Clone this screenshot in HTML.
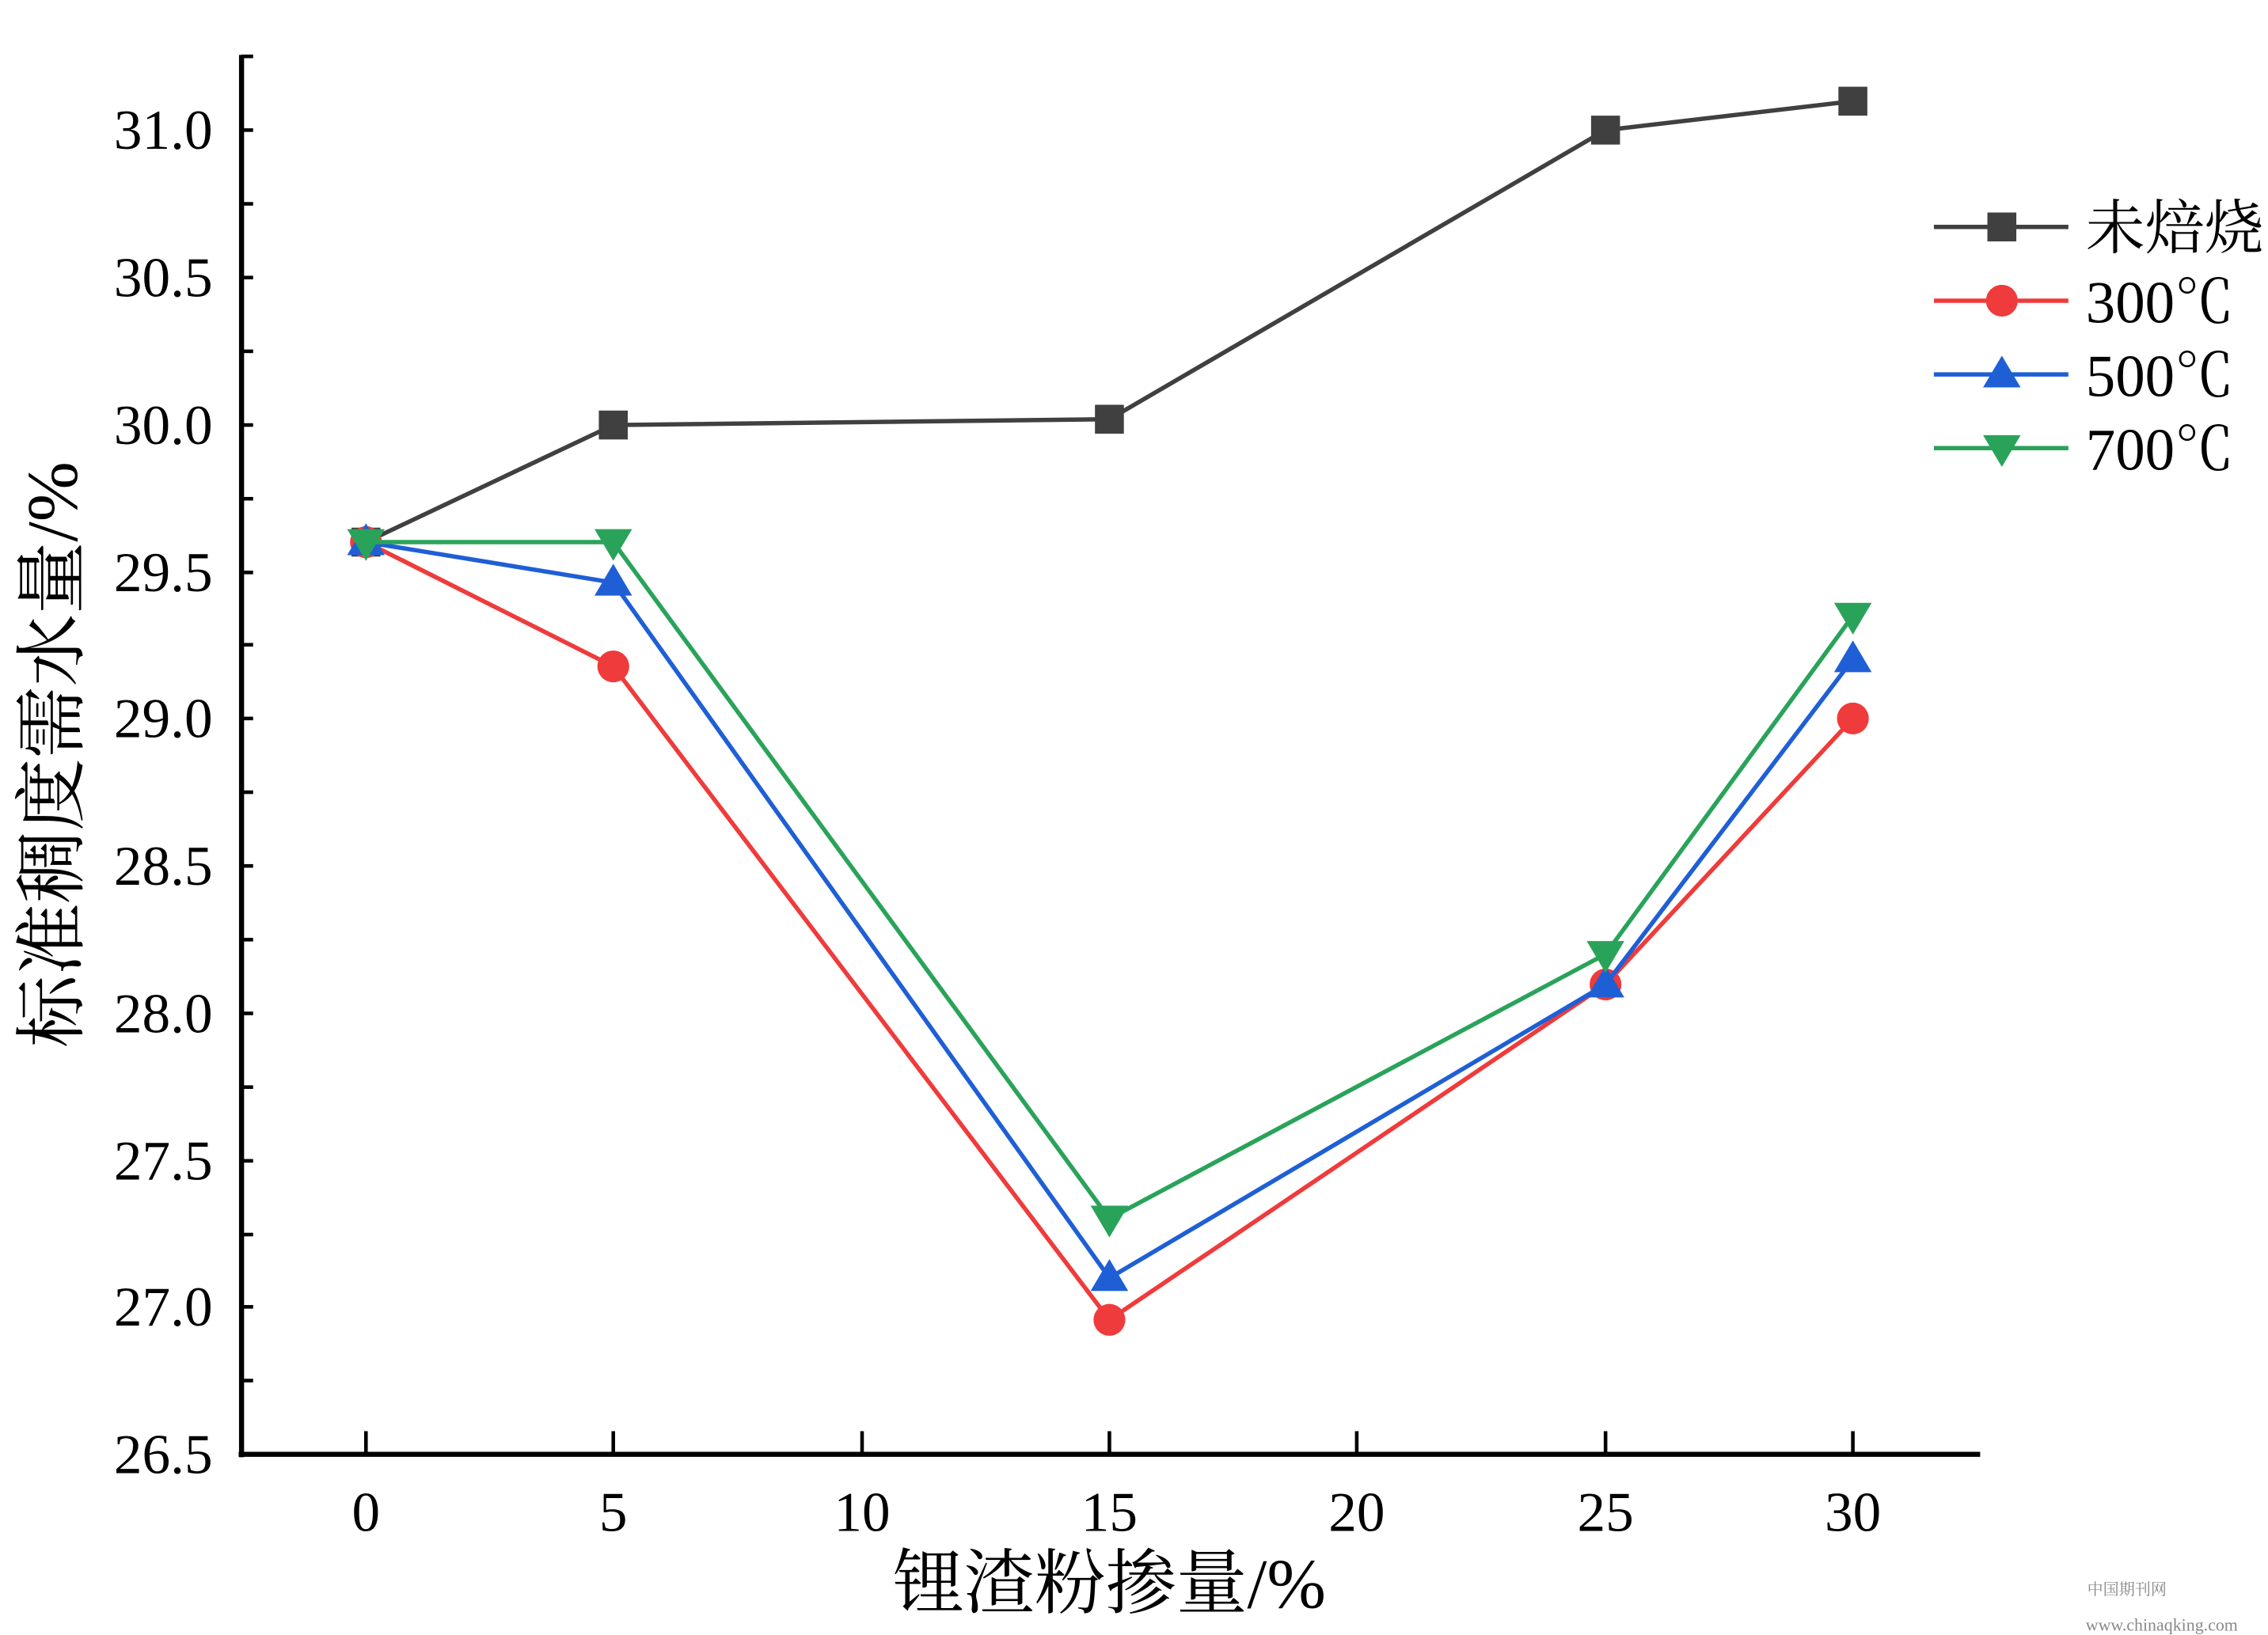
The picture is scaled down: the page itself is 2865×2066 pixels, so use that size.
<!DOCTYPE html>
<html><head><meta charset="utf-8"><style>html,body{margin:0;padding:0;background:#fff}svg{display:block}</style></head><body>
<svg width="2865" height="2066" viewBox="0 0 1568 1131" preserveAspectRatio="none" xmlns="http://www.w3.org/2000/svg" font-family="'Liberation Serif','Noto Serif CJK SC',serif">
<rect width="1568" height="1131" fill="#fff"/>
<g stroke="#000" stroke-width="3.5" fill="none">
<line x1="167" y1="38" x2="167" y2="1008"/>
<line x1="165" y1="1006" x2="1369" y2="1006"/>
</g>
<g stroke="#000" stroke-width="2.5">
<line x1="167" y1="39" x2="175" y2="39"/><line x1="167" y1="90" x2="175" y2="90"/><line x1="167" y1="141" x2="175" y2="141"/><line x1="167" y1="192" x2="175" y2="192"/><line x1="167" y1="243" x2="175" y2="243"/><line x1="167" y1="294" x2="175" y2="294"/><line x1="167" y1="345" x2="175" y2="345"/><line x1="167" y1="396" x2="175" y2="396"/><line x1="167" y1="446" x2="175" y2="446"/><line x1="167" y1="497" x2="175" y2="497"/><line x1="167" y1="548" x2="175" y2="548"/><line x1="167" y1="599" x2="175" y2="599"/><line x1="167" y1="650" x2="175" y2="650"/><line x1="167" y1="701" x2="175" y2="701"/><line x1="167" y1="752" x2="175" y2="752"/><line x1="167" y1="803" x2="175" y2="803"/><line x1="167" y1="854" x2="175" y2="854"/><line x1="167" y1="904" x2="175" y2="904"/><line x1="167" y1="955" x2="175" y2="955"/>
<line x1="253" y1="1006" x2="253" y2="990"/><line x1="424" y1="1006" x2="424" y2="990"/><line x1="596" y1="1006" x2="596" y2="990"/><line x1="767" y1="1006" x2="767" y2="990"/><line x1="938" y1="1006" x2="938" y2="990"/><line x1="1110" y1="1006" x2="1110" y2="990"/><line x1="1281" y1="1006" x2="1281" y2="990"/>
</g>
<g font-size="39" text-anchor="end" fill="#000">
<text x="147" y="103">31.0</text><text x="147" y="205">30.5</text><text x="147" y="307">30.0</text><text x="147" y="409">29.5</text><text x="147" y="510">29.0</text><text x="147" y="612">28.5</text><text x="147" y="714">28.0</text><text x="147" y="816">27.5</text><text x="147" y="917">27.0</text><text x="147" y="1019">26.5</text>
</g>
<g font-size="39" text-anchor="middle" fill="#000">
<text x="253" y="1059">0</text><text x="424" y="1059">5</text><text x="596" y="1059">10</text><text x="767" y="1059">15</text><text x="938" y="1059">20</text><text x="1110" y="1059">25</text><text x="1281" y="1059">30</text>
</g>
<text x="767" y="1112" font-size="49" text-anchor="middle">锂渣粉掺量/%</text>
<text transform="translate(53,522) rotate(-90)" font-size="50" text-anchor="middle">标准稠度需水量/%</text>
<polyline fill="none" stroke="#404040" stroke-width="3" points="253,375 424,294 767,290 1110,90 1281,70"/>
<g fill="#404040"><rect x="243" y="365" width="20" height="20"/><rect x="414" y="284" width="20" height="20"/><rect x="757" y="280" width="20" height="20"/><rect x="1100" y="80" width="20" height="20"/><rect x="1271" y="60" width="20" height="20"/></g>
<polyline fill="none" stroke="#ef3b3b" stroke-width="3" points="253,375 424,461 767,913 1110,681 1281,497"/>
<g fill="#ef3b3b"><circle cx="253" cy="375" r="11"/><circle cx="424" cy="461" r="11"/><circle cx="767" cy="913" r="11"/><circle cx="1110" cy="681" r="11"/><circle cx="1281" cy="497" r="11"/></g>
<polyline fill="none" stroke="#1f5fd6" stroke-width="3" points="253,375 424,403 767,884 1110,681 1281,456"/>
<g fill="#1f5fd6"><path d="M253,362 l13,22 h-26z"/><path d="M424,390 l13,22 h-26z"/><path d="M767,871 l13,22 h-26z"/><path d="M1110,668 l13,22 h-26z"/><path d="M1281,443 l13,22 h-26z"/></g>
<polyline fill="none" stroke="#2aa35a" stroke-width="3" points="253,375 424,375 767,843 1110,660 1281,426"/>
<g fill="#2aa35a"><path d="M253,388 l13,-22 h-26z"/><path d="M424,388 l13,-22 h-26z"/><path d="M767,856 l13,-22 h-26z"/><path d="M1110,673 l13,-22 h-26z"/><path d="M1281,439 l13,-22 h-26z"/></g>
<g stroke-width="3">
<line x1="1337" y1="157" x2="1430" y2="157" stroke="#404040"/>
<line x1="1337" y1="208" x2="1430" y2="208" stroke="#ef3b3b"/>
<line x1="1337" y1="259" x2="1430" y2="259" stroke="#1f5fd6"/>
<line x1="1337" y1="310" x2="1430" y2="310" stroke="#2aa35a"/>
</g>
<rect x="1374" y="147" width="20" height="20" fill="#404040"/>
<circle cx="1384" cy="208" r="11" fill="#ef3b3b"/>
<path d="M1384,246 l13,22 h-26z" fill="#1f5fd6"/>
<path d="M1384,323 l13,-22 h-26z" fill="#2aa35a"/>
<g font-size="41" fill="#000">
<text x="1442" y="172">未焙烧</text><text x="1442" y="223">300℃</text><text x="1442" y="274">500℃</text><text x="1442" y="325">700℃</text>
</g>
<text x="1443" y="1103" font-size="11" fill="#888">中国期刊网</text>
<text x="1442" y="1128" font-size="12" fill="#888">www.chinaqking.com</text>
</svg>
</body></html>
